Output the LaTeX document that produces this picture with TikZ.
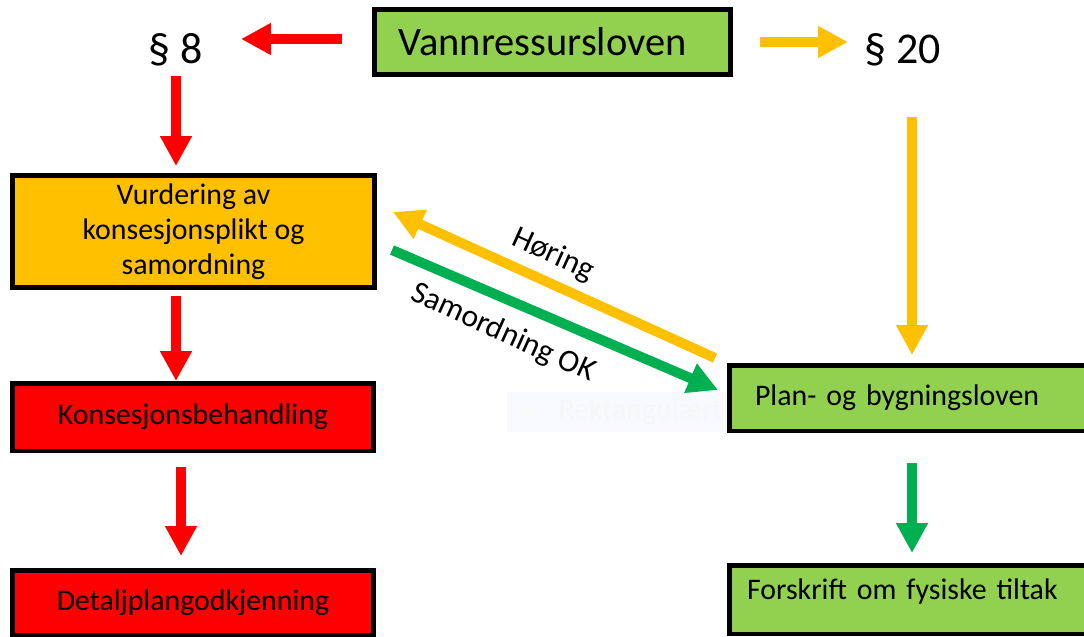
\documentclass[tikz,border=0pt]{standalone}
\usepackage{fontspec}
\setmainfont{Carlito}
\usetikzlibrary{arrows.meta,calc,positioning}
\definecolor{boxgreen}{HTML}{92D050}
\definecolor{boxorange}{HTML}{FFC000}
\definecolor{boxred}{HTML}{FF0000}
\definecolor{arrowgreen}{HTML}{00B050}
\definecolor{arrowyellow}{HTML}{FFC000}
\definecolor{ghost}{HTML}{F7F9FC}
\begin{document}
\begin{tikzpicture}[
x=0.02cm, y=-0.02cm,
MyBox/.style={draw=black, line width=0.09cm, inner sep=0pt, align=center, font=\fontsize{17}{20}\selectfont},
LeftBox/.style={MyBox, fill=boxgreen, align=left, minimum width=7.37cm},
Paragraph/.style={font=\fontsize{25}{30}\selectfont, anchor=base, inner sep=0pt},
Slanted/.style={font=\fontsize{18}{22}\selectfont, rotate=-24.4, inner sep=0pt},
BigArrow/.style={line width=0.2cm, -{Triangle[length=0.6cm,width=0.6cm]}},
every node/.style={scale=1}
]
\useasboundingbox (0,0) rectangle (1084,636);
\clip (0,0) rectangle (1084,636);

% faint tooltip left over from the screenshot
\node[fill=ghost, minimum width=4.86cm, minimum height=0.8cm, inner sep=0pt] (Tip) at (628,412) {};
\fill[gray!5] (527,412) circle (7);
\node[anchor=west, text=gray!7, font=\fontsize{17}{20}\selectfont, inner sep=0pt] (TipText) at (558,412) {Rektangulært klipp};

% boxes
\node[MyBox, fill=boxgreen, minimum width=7.13cm, minimum height=1.31cm,
      font=\fontsize{23}{28}\selectfont] (V) at (552.5,42) {Vannressursloven\hspace{0.4cm}};
\node[Paragraph] (P8) at (176,63) {§ 8};
\node[Paragraph] (P20) at (903,63) {§ 20};

\node[MyBox, fill=boxorange, minimum width=7.25cm, minimum height=2.25cm] (Vurd) at (193.5,231.5)
     {Vurdering av\\konsesjonsplikt og\\samordning};
\node[MyBox, fill=boxred, minimum width=7.23cm, minimum height=1.35cm] (Kons) at (193,417) {Konsesjonsbehandling};
\node[MyBox, fill=boxred, minimum width=7.23cm, minimum height=1.29cm] (Det) at (193,602.5) {Detaljplangodkjenning};

\node[LeftBox, minimum height=1.31cm, inner xsep=0.515cm, text width=6.34cm] (PBL) at (913.5,398) {Plan- og bygningsloven};
\node[LeftBox, minimum height=1.37cm, inner xsep=0.355cm, text width=6.66cm, text depth=0.4cm] (Fors) at (913.5,599.5) {Forskrift om fysiske tiltak};

% arrows
\draw[BigArrow, boxred] ($(V.west)+(-30,-3)$) -- ($(P8.base)+(65,-24)$);
\draw[BigArrow, arrowyellow] ($(V.east)+(27,0)$) -- ($(P20.base)+(-55,-21)$);

\draw[BigArrow, boxred] ($(P8.base)+(0,13)$) -- ($(P8.base |- Vurd.north)+(0,-7)$);
\draw[BigArrow, boxred] ($(Vurd.south -| P8.base)+(0,6)$) -- (Kons.north -| P8.base);
\draw[BigArrow, boxred] ($(Kons.south)+(-12,14)$) -- ($(Det.north)+(-12,-12)$);

\draw[BigArrow, arrowyellow] ($(P20.base)+(9,54)$) -- ($(P20.base |- PBL.north)+(9,-8)$);
\draw[BigArrow, arrowgreen] ($(PBL.south -| P20.base)+(9,30)$) -- ($(Fors.north -| P20.base)+(9,-10)$);

\draw[BigArrow, arrowyellow] ($(PBL.north west)+(-12,-5)$) -- ($(Vurd.east)+(16,-19.5)$);
\draw[BigArrow, arrowgreen] ($(Vurd.east)+(15,18.5)$) -- ($(PBL.west)+(-9,-8)$);

\node[Slanted] (Hor) at (553,255) {Høring};
\node[Slanted] (Sam) at (503,333) {Samordning OK};

\end{tikzpicture}
\end{document}
